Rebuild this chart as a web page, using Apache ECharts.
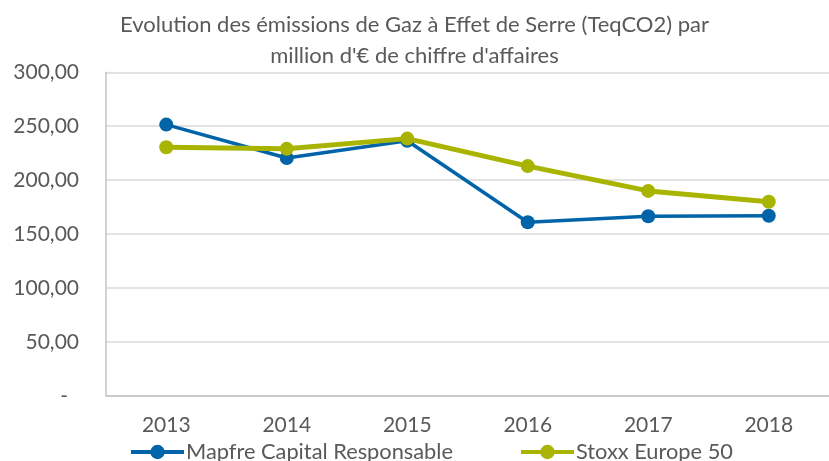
<!DOCTYPE html>
<html>
<head>
<meta charset="utf-8">
<script src="https://cdn.jsdelivr.net/npm/echarts@6/dist/echarts.min.js"></script>
<style>
html,body{margin:0;padding:0;background:#fff;}
#chart{width:829px;height:461px;}
</style>
</head>
<body>
<div id="chart"></div>
<script>
const titleText = "Evolution des émissions de Gaz à Effet de Serre (TeqCO2) par\nmillion d'€ de chiffre d'affaires";
const years = ["2013", "2014", "2015", "2016", "2017", "2018"];
const mapfre = [251.5, 220.5, 236.5, 161.0, 166.5, 167.0];
const stoxx = [230.5, 229.0, 238.5, 213.0, 190.0, 180.0];
const seriesNames = ["Mapfre Capital Responsable", "Stoxx Europe 50"];
const yTicks = { min: 0, max: 300, interval: 50 };

const FONT = "Lato";
const TXT = "#595959";
const BLUE = "#0264a8";
const GREEN = "#a9b400";

const chart = echarts.init(document.getElementById('chart'), null, { renderer: 'canvas' });
chart.setOption({
  animation: false,
  backgroundColor: '#ffffff',
  textStyle: { fontFamily: FONT },
  title: {
    text: titleText,
    left: 'center',
    top: 9,
    padding: [0, 0, 0, 11],
    textStyle: { fontFamily: FONT, fontSize: 22, fontWeight: 'normal', color: TXT, lineHeight: 31 }
  },
  legend: {
    bottom: -7,
    left: 124,
    itemWidth: 53,
    itemHeight: 18,
    itemGap: 66,
    textStyle: { fontFamily: FONT, fontSize: 21.8, color: TXT, padding: [0, 0, 0, -3] },
    data: [
      { name: seriesNames[0], lineStyle: { width: 4, color: BLUE } },
      { name: seriesNames[1], lineStyle: { width: 4, color: GREEN } }
    ]
  },
  grid: { left: 106, top: 72.3, width: 728.4, height: 323.5, containLabel: false },
  xAxis: {
    type: 'category',
    data: years,
    boundaryGap: true,
    axisLine: { show: true, lineStyle: { color: '#c4c4c4', width: 1.5 } },
    axisTick: { show: false },
    axisLabel: { color: TXT, fontFamily: FONT, fontSize: 21, margin: 19 }
  },
  yAxis: {
    type: 'value',
    min: yTicks.min,
    max: yTicks.max,
    interval: yTicks.interval,
    axisLine: { show: true, lineStyle: { color: '#c4c4c4', width: 1.5 } },
    axisTick: { show: false },
    splitLine: { show: true, lineStyle: { color: '#d9d9d9', width: 1.5 } },
    axisLabel: {
      color: TXT, fontFamily: FONT, fontSize: 21, margin: 27,
      formatter: function (v) { return v === 0 ? '{d|-}' : v.toFixed(2).replace('.', ','); },
      rich: { d: { color: TXT, fontFamily: FONT, fontSize: 21, padding: [0, 11, 0, 0] } }
    }
  },
  series: [
    {
      name: seriesNames[0], type: 'line', data: mapfre,
      symbol: 'circle', symbolSize: 14,
      itemStyle: { color: BLUE },
      lineStyle: { color: BLUE, width: 3.5 },
      z: 3
    },
    {
      name: seriesNames[1], type: 'line', data: stoxx,
      symbol: 'circle', symbolSize: 14,
      itemStyle: { color: GREEN },
      lineStyle: { color: GREEN, width: 5 },
      z: 4
    }
  ]
});
</script>
</body>
</html>
